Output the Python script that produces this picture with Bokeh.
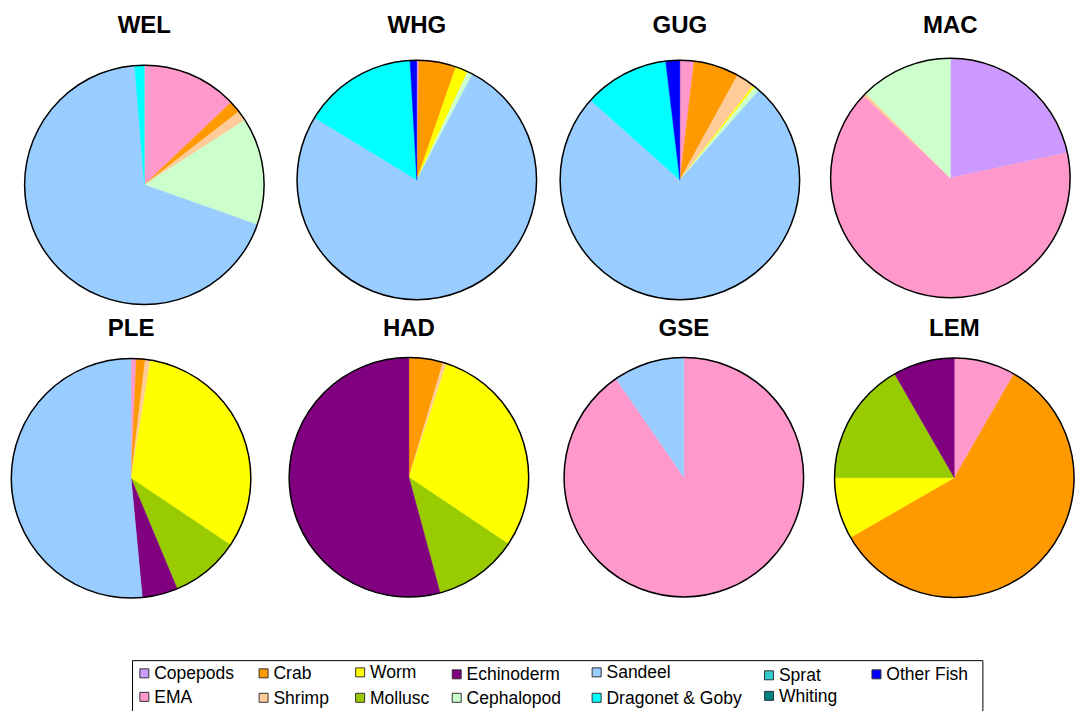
import numpy as np
from bokeh.plotting import figure
from bokeh.models import Range1d, ColumnDataSource
from bokeh.core.properties import value
from bokeh.embed import file_html
from bokeh.resources import INLINE

# ---------------- data ----------------
categories = ["Copepods", "EMA", "Crab", "Shrimp", "Worm", "Mollusc", "Echinoderm",
              "Cephalopod", "Sandeel", "Dragonet & Goby", "Sprat", "Whiting", "Other Fish"]
colors = ["#CC99FF", "#FF99CC", "#FF9900", "#FFCC99", "#FFFF00", "#99CC00", "#800080",
          "#CCFFCC", "#99CCFF", "#00FFFF", "#33CCCC", "#008080", "#0000FF"]

species = ["WEL", "WHG", "GUG", "MAC", "PLE", "HAD", "GSE", "LEM"]
#       Cop   EMA   Crab  Shr  Worm  Moll  Echi  Ceph  Sand  Drag  Spr Whi  Oth
WEL = [0.0, 12.9, 1.6, 1.4, 0.0, 0.0, 0.0, 14.5, 68.3, 1.3, 0.0, 0.0, 0.0]
WHG = [0.0, 0.3, 5.0, 0.0, 1.7, 0.0, 0.0, 0.7, 76.0, 15.4, 0.0, 0.0, 0.9]
GUG = [0.0, 1.9, 6.1, 2.5, 0.3, 0.0, 0.0, 0.7, 75.1, 11.5, 0.0, 0.0, 1.9]
MAC = [21.6, 65.5, 0.0, 0.4, 0.0, 0.0, 0.0, 12.5, 0.0, 0.0, 0.0, 0.0, 0.0]
PLE = [0.0, 0.7, 1.2, 0.7, 31.8, 9.3, 4.8, 0.0, 51.5, 0.0, 0.0, 0.0, 0.0]
HAD = [0.0, 0.0, 4.6, 0.5, 29.3, 11.4, 54.2, 0.0, 0.0, 0.0, 0.0, 0.0, 0.0]
GSE = [0.0, 90.4, 0.0, 0.0, 0.0, 0.0, 0.0, 0.0, 9.6, 0.0, 0.0, 0.0, 0.0]
LEM = [0.0, 8.3, 58.4, 0.0, 8.3, 16.7, 8.3, 0.0, 0.0, 0.0, 0.0, 0.0, 0.0]
diets = [WEL, WHG, GUG, MAC, PLE, HAD, GSE, LEM]

# ---------------- layout (reference pixels, 1091 x 727) ----------------
W, H = 1075, 711
REF_W, REF_H = 1091, 727
SX, SY = W / REF_W, H / REF_H

pie_cx = [146, 422.5, 689.5, 964, 132.5, 414.5, 693.5, 968.0]
pie_cy = [188.5, 183.5, 183.5, 181.5, 488.5, 487.5, 487.5, 488.0]
pie_r = 122
title_cy = [25, 25, 25, 25, 334, 334, 334, 334]

leg_sq_x = [146, 146, 267, 267, 365, 365, 463, 463, 605, 605, 780, 780, 889]
leg_y = [688, 712, 688, 713, 687, 713, 689, 713, 687, 713, 690, 711, 689]


def X(px):
    return px * SX


def Y(py):
    return (REF_H - py) * SY


p = figure(width=W, height=H, x_range=Range1d(0, W), y_range=Range1d(0, H),
           output_backend="svg", toolbar_location=None, min_border=0)
p.axis.visible = False
p.grid.visible = False
p.outline_line_color = None
p.background_fill_color = "white"
p.border_fill_color = "white"

FONT = value("Liberation Sans")
R = pie_r * (SX + SY) / 2

for name, vals, cx, cy, ty in zip(species, diets, pie_cx, pie_cy, title_cy):
    v = np.array(vals, dtype=float)
    frac = v / v.sum()
    cum = np.concatenate([[0.0], np.cumsum(frac)])
    keep = v > 0
    a0 = cum[:-1][keep] * 2 * np.pi
    a1 = cum[1:][keep] * 2 * np.pi
    cols = [c for c, k in zip(colors, keep) if k]
    src = ColumnDataSource(dict(
        x=[X(cx)] * len(cols), y=[Y(cy)] * len(cols),
        start=np.pi / 2 - a1, end=np.pi / 2 - a0, color=cols))
    p.wedge(x="x", y="y", radius=R, start_angle="start", end_angle="end",
            fill_color="color", line_color="color", line_width=0.4, source=src)
    p.circle(x=[X(cx)], y=[Y(cy)], radius=R, fill_color=None,
             line_color="black", line_width=1.5)
    p.text(x=[X(cx)], y=[Y(ty)], text=[name], text_font=FONT,
           text_font_style="bold", text_font_size="24px",
           text_align="center", text_baseline="middle", text_color="black")

# legend box (bottom runs past the page edge like the reference)
p.quad(left=[X(134)], right=[X(997)], top=[Y(675)], bottom=[Y(760)],
       fill_color=None, line_color="black", line_width=1)

p.rect(x=[X(v) for v in leg_sq_x], y=[Y(v) for v in leg_y], width=9, height=9,
       fill_color=colors, line_color="#333333", line_width=1)
p.text(x=[X(v + 10) for v in leg_sq_x], y=[Y(v) for v in leg_y], text=categories,
       text_font=FONT, text_font_size="17.5px", text_align="left",
       text_baseline="middle", text_color="black")

open("out.html", "w").write(file_html(p, INLINE))
